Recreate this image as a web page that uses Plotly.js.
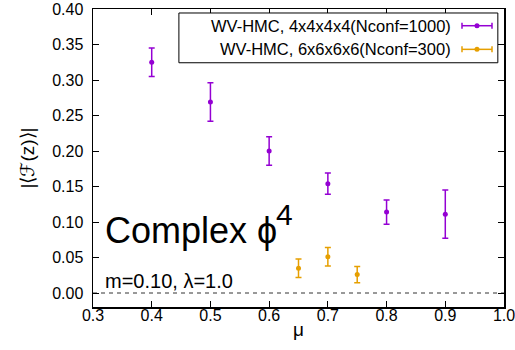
<!DOCTYPE html>
<html>
<head>
<meta charset="utf-8">
<script src="https://cdn.plot.ly/plotly-3.0.1.min.js"></script>
<style>html,body{margin:0;padding:0;background:#fff}#plot{width:515px;height:350px}</style>
</head>
<body>
<div id="plot"></div>
<script>
// Series 1: WV-HMC, 4x4x4x4 (Nconf=1000)
const mu4 = [0.4, 0.5, 0.6, 0.7, 0.8, 0.9];
const F4 = [0.325, 0.269, 0.200, 0.154, 0.114, 0.111];
const err4 = [0.020, 0.027, 0.020, 0.015, 0.017, 0.034];
// Series 2: WV-HMC, 6x6x6x6 (Nconf=300)
const mu6 = [0.65, 0.70, 0.75];
const F6 = [0.035, 0.051, 0.026];
const err6 = [0.013, 0.013, 0.0115];

const names = ["WV-HMC, 4x4x4x4(Nconf=1000)", "WV-HMC, 6x6x6x6(Nconf=300)"];
const colors = ["#9400d3", "#e69f00"];
const xTicks = [0.3, 0.4, 0.5, 0.6, 0.7, 0.8, 0.9, 1.0];
const xTickText = ["0.3", "0.4", "0.5", "0.6", "0.7", "0.8", "0.9", "1.0"];
const yTicks = [0.00, 0.05, 0.10, 0.15, 0.20, 0.25, 0.30, 0.35, 0.40];
const yTickText = ["0.00", "0.05", "0.10", "0.15", "0.20", "0.25", "0.30", "0.35", "0.40"];

const font = "Liberation Sans, Arial, sans-serif";

function trace(x, y, e, i) {
  return {
    x: x, y: y, type: "scatter", mode: "markers", name: names[i],
    marker: {color: colors[i], size: 5},
    error_y: {type: "data", array: e, visible: true, color: colors[i], thickness: 1.5, width: 3},
    showlegend: false, hoverinfo: "skip"
  };
}

const data = [trace(mu4, F4, err4, 0), trace(mu6, F6, err6, 1)];

// custom legend (text left of sample, gnuplot style)
const legY = [0.9439, 0.8646];
const shapes = [
  {type: "line", xref: "paper", yref: "y", x0: 0, x1: 1, y0: 0, y1: 0,
   line: {color: "#333", width: 1, dash: "4px,4px"}, layer: "below"},
  {type: "rect", xref: "paper", yref: "paper", x0: 0.209, x1: 0.985, y0: 0.8196, y1: 0.9866,
   line: {color: "#000", width: 1}, fillcolor: "rgba(255,255,255,1)"}
];
const annotations = [];
for (let i = 0; i < 2; i++) {
  const c = colors[i];
  shapes.push({type: "line", xref: "paper", yref: "paper", x0: 0.8978, x1: 0.9708, y0: legY[i], y1: legY[i], line: {color: c, width: 1.5}});
  [0.8978, 0.9708].forEach(xx => shapes.push({type: "line", xref: "paper", yref: "paper", ysizemode: "pixel", yanchor: legY[i],
    x0: xx, x1: xx, y0: -3, y1: 3, line: {color: c, width: 1.5}}));
  shapes.push({type: "circle", xref: "paper", yref: "paper", xsizemode: "pixel", ysizemode: "pixel",
    xanchor: 0.9343, yanchor: legY[i], x0: -2.5, x1: 2.5, y0: -2.5, y1: 2.5, fillcolor: c, line: {color: c, width: 0}});
  annotations.push({xref: "paper", yref: "paper", x: 0.8759, y: legY[i], xanchor: "right", yanchor: "middle",
    text: names[i], showarrow: false, font: {family: font, size: 16.5, color: "#000"}});
}
annotations.push({xref: "paper", yref: "paper", x: 0.0243, y: 0.2576, xanchor: "left", yanchor: "middle",
  text: "Complex ϕ", showarrow: false, font: {family: font, size: 36, color: "#000"}});
annotations.push({xref: "paper", yref: "paper", x: 0.4415, y: 0.31, xanchor: "left", yanchor: "middle",
  text: "4", showarrow: false, font: {family: font, size: 30, color: "#000"}});
annotations.push({xref: "paper", yref: "paper", x: 0.0243, y: 0.0866, xanchor: "left", yanchor: "middle",
  text: "m=0.10, λ=1.0", showarrow: false, font: {family: font, size: 20, color: "#000"}});

const layout = {
  width: 515, height: 350,
  margin: {l: 93, r: 11, t: 9, b: 43},
  paper_bgcolor: "#fff", plot_bgcolor: "#fff",
  font: {family: font, size: 16, color: "#000"},
  showlegend: false,
  xaxis: {
    range: [0.3, 1.0], tickvals: xTicks, ticktext: xTickText,
    ticks: "inside", ticklen: 6, tickcolor: "#000", mirror: "ticks",
    showline: true, linecolor: "#000", linewidth: 1.5, showgrid: false, zeroline: false,
    tickfont: {family: font, size: 16}, ticklabelstandoff: -7, ticklabeloverflow: "allow",
    title: {text: "μ", font: {family: font, size: 19}, standoff: 0}
  },
  yaxis: {
    range: [-0.0197, 0.4], tickvals: yTicks, ticktext: yTickText,
    ticks: "inside", ticklen: 6, tickcolor: "#000", mirror: "ticks",
    showline: true, linecolor: "#000", linewidth: 1.5, showgrid: false, zeroline: false,
    tickfont: {family: font, size: 16}, ticklabelstandoff: 5,
    title: {text: "|⟨ℱ(z)⟩|", font: {family: font, size: 19}, standoff: 12}
  },
  shapes: shapes,
  annotations: annotations
};

Plotly.newPlot("plot", data, layout, {staticPlot: true, displayModeBar: false});
</script>
</body>
</html>
